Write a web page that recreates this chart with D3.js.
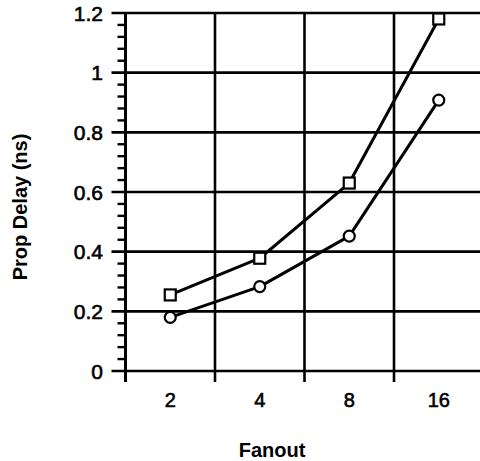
<!DOCTYPE html>
<html>
<head>
<meta charset="utf-8">
<script src="https://cdn.jsdelivr.net/npm/d3@7"></script>
<style>
  body { margin: 0; background: #fff; }
  text { font-family: "Liberation Sans", Arial, sans-serif; fill: #000; }
</style>
</head>
<body>
<div id="chart"></div>
<script>
var fanout = ["2", "4", "8", "16"];
var squareDelay = [0.255, 0.378, 0.63, 1.18];
var circleDelay = [0.18, 0.283, 0.452, 0.908];
var yTicks = [0, 0.2, 0.4, 0.6, 0.8, 1, 1.2];
var yTickLabels = ["0", "0.2", "0.4", "0.6", "0.8", "1", "1.2"];

var width = 480, height = 461;
var plotLeft = 125.5, plotRight = 483.5, plotTop = 13, plotBottom = 371;

var svg = d3.select("#chart").append("svg")
  .attr("width", width)
  .attr("height", height);

var x = d3.scaleBand().domain(fanout).range([plotLeft, plotRight]);
var y = d3.scaleLinear().domain([0, 1.2]).range([plotBottom, plotTop]);

// horizontal grid + major ticks
svg.selectAll("line.hgrid")
  .data(yTicks)
  .enter().append("line")
  .attr("class", "hgrid")
  .attr("x1", plotLeft - 14)
  .attr("x2", width + 5)
  .attr("y1", function(d) { return y(d); })
  .attr("y2", function(d) { return y(d); })
  .style("stroke", "#000")
  .style("stroke-width", 2.6);

// minor ticks
var minor = d3.range(0, 1.2, 0.04).filter(function(d, i) { return i % 5 != 0; });
svg.selectAll("line.minor")
  .data(minor)
  .enter().append("line")
  .attr("class", "minor")
  .attr("x1", plotLeft - 8)
  .attr("x2", plotLeft)
  .attr("y1", function(d) { return y(d); })
  .attr("y2", function(d) { return y(d); })
  .style("stroke", "#000")
  .style("stroke-width", 2.4);

// vertical grid at band edges
var edges = fanout.map(function(d) { return x(d); });
svg.selectAll("line.vgrid")
  .data(edges)
  .enter().append("line")
  .attr("class", "vgrid")
  .attr("x1", function(d) { return d; })
  .attr("x2", function(d) { return d; })
  .attr("y1", plotTop)
  .attr("y2", plotBottom + 11)
  .style("stroke", "#000")
  .style("stroke-width", function(d, i) { return i == 0 ? 3 : 2.6; });

// y tick labels
svg.selectAll("text.ylab")
  .data(yTicks)
  .enter().append("text")
  .attr("class", "ylab")
  .attr("x", 103)
  .attr("y", function(d) { return y(d); })
  .attr("dy", "0.36em")
  .attr("text-anchor", "end")
  .attr("font-size", 21)
  .style("stroke", "#000")
  .style("stroke-width", 0.6)
  .text(function(d, i) { return yTickLabels[i]; });

// x tick labels
svg.selectAll("text.xlab")
  .data(fanout)
  .enter().append("text")
  .attr("class", "xlab")
  .attr("x", function(d) { return x(d) + x.bandwidth() / 2; })
  .attr("y", 407)
  .attr("text-anchor", "middle")
  .attr("font-size", 20)
  .style("stroke", "#000")
  .style("stroke-width", 0.6)
  .text(function(d) { return d; });

// axis titles
svg.append("text")
  .attr("x", 272)
  .attr("y", 457)
  .attr("text-anchor", "middle")
  .attr("font-size", 20)
  .attr("font-weight", "bold")
  .text("Fanout");

svg.append("text")
  .attr("transform", "translate(27,207) rotate(-90)")
  .attr("text-anchor", "middle")
  .attr("font-size", 20)
  .attr("font-weight", "bold")
  .text("Prop Delay (ns)");

// series lines
var line = d3.line()
  .x(function(d, i) { return x(fanout[i]) + x.bandwidth() / 2; })
  .y(function(d) { return y(d); });

[squareDelay, circleDelay].forEach(function(series) {
  svg.append("path")
    .attr("d", line(series))
    .style("fill", "none")
    .style("stroke", "#000")
    .style("stroke-width", 3)
    .style("stroke-linejoin", "round");
});

// markers
svg.selectAll("rect.sq")
  .data(squareDelay)
  .enter().append("rect")
  .attr("class", "sq")
  .attr("x", function(d, i) { return x(fanout[i]) + x.bandwidth() / 2 - 5.5; })
  .attr("y", function(d) { return y(d) - 5.5; })
  .attr("width", 11)
  .attr("height", 11)
  .style("fill", "#fff")
  .style("stroke", "#000")
  .style("stroke-width", 2.2);

svg.selectAll("circle.ci")
  .data(circleDelay)
  .enter().append("circle")
  .attr("class", "ci")
  .attr("cx", function(d, i) { return x(fanout[i]) + x.bandwidth() / 2; })
  .attr("cy", function(d) { return y(d); })
  .attr("r", 5.5)
  .style("fill", "#fff")
  .style("stroke", "#000")
  .style("stroke-width", 2.2);
</script>
</body>
</html>
